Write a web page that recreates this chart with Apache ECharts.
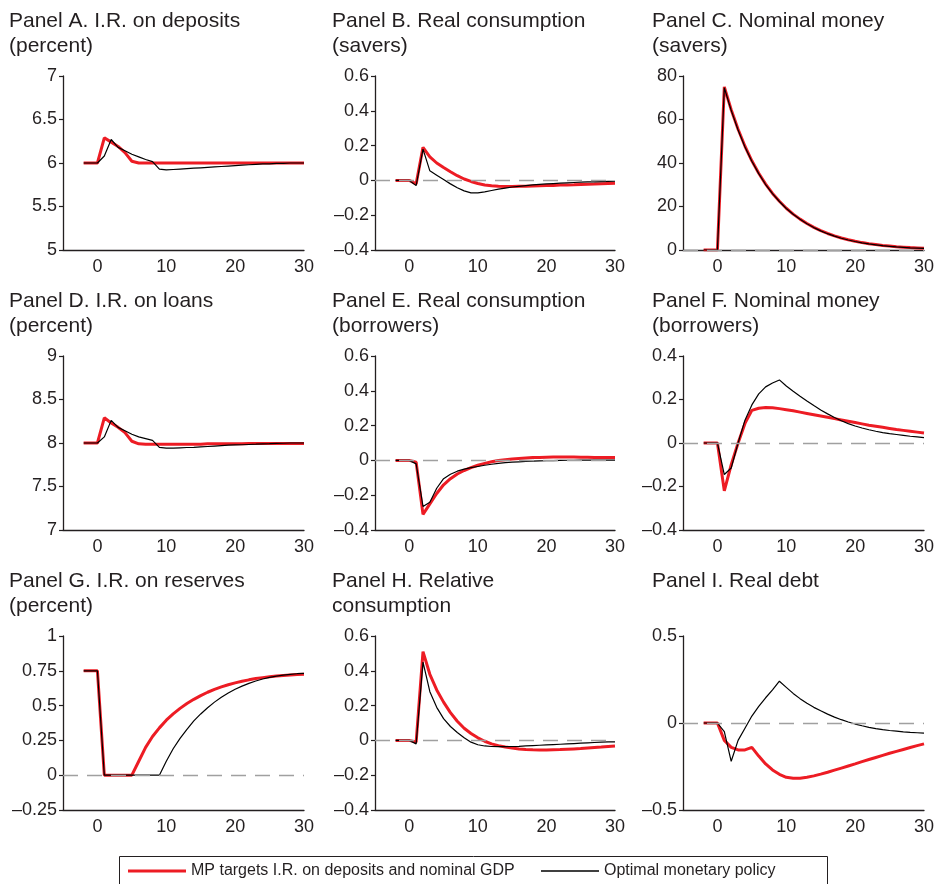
<!DOCTYPE html>
<html>
<head>
<meta charset="utf-8">
<script src="https://cdn.jsdelivr.net/npm/echarts@6/dist/echarts.min.js"></script>
<style>
html,body{margin:0;padding:0;background:#fff;}
#chart{width:936px;height:884px;}
</style>
</head>
<body>
<div id="chart"></div>
<script>
// ---------- DATA ----------
const periods = [-2,-1,0,1,2,3,4,5,6,7,8,9,10,11,12,13,14,15,16,17,18,19,20,21,22,23,24,25,26,27,28,29,30];

const seriesNames = ['MP targets I.R. on deposits and nominal GDP', 'Optimal monetary policy'];

const panelTitles = [
  'Panel A. I.R. on deposits\n(percent)',
  'Panel B. Real consumption\n(savers)',
  'Panel C. Nominal money\n(savers)',
  'Panel D. I.R. on loans\n(percent)',
  'Panel E. Real consumption\n(borrowers)',
  'Panel F. Nominal money\n(borrowers)',
  'Panel G. I.R. on reserves\n(percent)',
  'Panel H. Relative\nconsumption',
  'Panel I. Real debt'
];

const yMin  = [5, -0.4, 0, 7, -0.4, -0.4, -0.25, -0.4, -0.5];
const yMax  = [7,  0.6, 80, 9, 0.6, 0.4, 1, 0.6, 0.5];
const yStep = [0.5, 0.2, 20, 0.5, 0.2, 0.2, 0.25, 0.2, 0.5];
const xTickLabels = [0, 10, 20, 30];
const zeroLine = [false, true, true, false, true, true, true, true, true];

// Panel A: I.R. on deposits
const depRed = [6,6,6, 6.29,6.24,6.19,6.12,6.02,6.0, 6,6,6,6,6,6,6,6,6,6,6,6,6,6,6,6,6,6,6,6,6,6,6,6];
const depOpt = [6,6,6, 6.08,6.27,6.18,6.14,6.1,6.07,6.04,6.015,5.93,5.92,5.925,5.93,5.935,5.94,5.945,5.95,5.955,5.96,5.965,5.97,5.975,5.98,5.985,5.99,5.99,5.995,5.995,6,6,6];
// Panel B: real consumption (savers)
const consSavRed = [0,0,0, -0.02,0.19,0.135,0.1,0.074,0.05,0.027,0.008,-0.006,-0.018,-0.026,-0.031,-0.034,-0.035,-0.035,-0.034,-0.033,-0.032,-0.031,-0.03,-0.029,-0.027,-0.026,-0.025,-0.023,-0.022,-0.021,-0.019,-0.018,-0.017];
const consSavOpt = [0,0,0, -0.03,0.18,0.055,0.03,0.005,-0.02,-0.042,-0.06,-0.072,-0.072,-0.066,-0.058,-0.05,-0.044,-0.038,-0.034,-0.03,-0.026,-0.023,-0.02,-0.018,-0.016,-0.014,-0.012,-0.01,-0.009,-0.008,-0.007,-0.006,-0.005];
// Panel C: nominal money (savers)
const moneySavRed = [0,0,0, 75,64.5,55.5,47.7,41,35.3,30.3,26,22.4,19.2,16.5,14.2,12.2,10.4,8.9,7.6,6.5,5.5,4.7,4.0,3.4,2.9,2.5,2.1,1.8,1.5,1.3,1.1,0.95,0.8];
const moneySavOpt = [0,0,0, 74.6,64.2,55.2,47.4,40.8,35.1,30.1,25.9,22.3,19.1,16.4,14.1,12.1,10.3,8.8,7.5,6.4,5.4,4.6,3.9,3.3,2.8,2.4,2.0,1.7,1.4,1.2,1.0,0.9,0.75];
// Panel D: I.R. on loans
const loanRed = [8,8,8, 8.29,8.23,8.18,8.12,8.02,7.99,7.985,7.985,7.985,7.985,7.985,7.985,7.985,7.985,7.985,7.99,7.99,7.99,7.99,7.99,7.99,7.995,7.995,7.995,7.995,7.995,7.995,7.995,7.995,7.995];
const loanOpt = [8,8,8, 8.07,8.26,8.18,8.14,8.1,8.07,8.05,8.03,7.95,7.94,7.942,7.945,7.948,7.95,7.955,7.96,7.965,7.97,7.975,7.978,7.98,7.983,7.986,7.99,7.992,7.995,7.997,8,8,8];
// Panel E: real consumption (borrowers)
const consBorRed = [0,0,0, -0.01,-0.31,-0.25,-0.19,-0.14,-0.105,-0.078,-0.058,-0.042,-0.028,-0.017,-0.008,-0.001,0.004,0.008,0.011,0.014,0.016,0.017,0.018,0.019,0.019,0.019,0.019,0.018,0.018,0.017,0.017,0.016,0.016];
const consBorOpt = [0,0,0, -0.02,-0.265,-0.24,-0.16,-0.105,-0.08,-0.062,-0.05,-0.042,-0.035,-0.028,-0.022,-0.017,-0.013,-0.01,-0.008,-0.006,-0.004,-0.003,-0.002,-0.001,0,0.001,0.001,0.002,0.002,0.002,0.002,0.002,0.002];
// Panel F: nominal money (borrowers)
const moneyBorRed = [0,0,0, -0.22,-0.1,0.0,0.09,0.15,0.16,0.163,0.162,0.158,0.153,0.148,0.142,0.136,0.13,0.124,0.118,0.112,0.106,0.1,0.094,0.088,0.082,0.077,0.072,0.067,0.062,0.058,0.054,0.05,0.046];
const moneyBorOpt = [0,0,0, -0.145,-0.115,0.0,0.105,0.175,0.226,0.258,0.276,0.29,0.262,0.238,0.215,0.193,0.172,0.152,0.134,0.117,0.102,0.089,0.078,0.069,0.061,0.054,0.048,0.043,0.039,0.035,0.031,0.028,0.025];
// Panel G: I.R. on reserves
const resRed = [0.75,0.75,0.75, 0,0,0,0,0,0.1,0.2,0.278,0.34,0.395,0.44,0.48,0.515,0.545,0.572,0.596,0.616,0.634,0.65,0.663,0.675,0.685,0.694,0.701,0.707,0.712,0.716,0.72,0.723,0.725];
const resOpt = [0.75,0.75,0.75, 0,0,0,0,0,0,0,0,0,0.1,0.19,0.265,0.33,0.39,0.44,0.485,0.525,0.56,0.59,0.617,0.64,0.66,0.677,0.691,0.703,0.712,0.719,0.725,0.729,0.732];
// Panel H: relative consumption
const relRed = [0,0,0, -0.01,0.51,0.38,0.29,0.22,0.16,0.11,0.07,0.04,0.015,-0.005,-0.02,-0.03,-0.038,-0.044,-0.049,-0.052,-0.054,-0.055,-0.055,-0.054,-0.053,-0.051,-0.049,-0.047,-0.044,-0.041,-0.038,-0.035,-0.032];
const relOpt = [0,0,0, -0.02,0.45,0.28,0.19,0.125,0.08,0.045,0.015,-0.01,-0.025,-0.032,-0.035,-0.036,-0.036,-0.035,-0.034,-0.032,-0.03,-0.028,-0.026,-0.024,-0.022,-0.02,-0.018,-0.016,-0.014,-0.012,-0.01,-0.009,-0.008];
// Panel I: real debt
const debtRed = [0,0,0, -0.1,-0.14,-0.155,-0.155,-0.14,-0.19,-0.235,-0.27,-0.295,-0.312,-0.318,-0.317,-0.312,-0.304,-0.294,-0.283,-0.271,-0.259,-0.247,-0.235,-0.222,-0.21,-0.198,-0.186,-0.174,-0.163,-0.152,-0.141,-0.13,-0.12];
const debtOpt = [0,0,0, -0.05,-0.22,-0.1,-0.03,0.04,0.095,0.145,0.19,0.24,0.205,0.17,0.14,0.113,0.09,0.07,0.051,0.034,0.019,0.006,-0.006,-0.016,-0.025,-0.032,-0.038,-0.043,-0.047,-0.051,-0.054,-0.056,-0.058];

const redSeries = [depRed, consSavRed, moneySavRed, loanRed, consBorRed, moneyBorRed, resRed, relRed, debtRed];
const optSeries = [depOpt, consSavOpt, moneySavOpt, loanOpt, consBorOpt, moneyBorOpt, resOpt, relOpt, debtOpt];

// ---------- LAYOUT / STYLE ----------
const FONT = '"Liberation Sans", Arial, Helvetica, sans-serif';
const TXT = '#231f20';
const RED = '#ed1c24';
const colLeft = [63, 375, 683];
const colWidth = [241, 240, 241];
const rowTop = [76, 356, 636];
const plotH = 174;
const titleLeft = [9, 332, 652];
const titleTop = [9, 289, 569];

function fmtY(v) {
  const r = Math.round(v * 1000) / 1000;
  if (r < 0) return '\u2013' + String(Math.abs(r));
  return String(r);
}

const grids = [], xAxes = [], yAxes = [], series = [], titles = [];
for (let i = 0; i < 9; i++) {
  const c = i % 3, r = Math.floor(i / 3);
  grids.push({left: colLeft[c], top: rowTop[r], width: colWidth[c], height: plotH, outerBoundsMode: 'none', containLabel: false});
  titles.push({
    text: panelTitles[i], left: titleLeft[c], top: titleTop[r], padding: 0,
    textStyle: {fontFamily: FONT, fontSize: 21, fontWeight: 'normal', color: TXT, lineHeight: 25}
  });
  xAxes.push({
    type: 'value', gridIndex: i, min: -5, max: 30, interval: 5,
    axisLine: {show: true, onZero: false, lineStyle: {color: TXT, width: 1.3}},
    axisTick: {show: false},
    splitLine: {show: false},
    axisLabel: {
      fontFamily: FONT, fontSize: 18, color: TXT, margin: 8,
      formatter: v => xTickLabels.indexOf(v) >= 0 ? String(v) : ''
    }
  });
  yAxes.push({
    type: 'value', gridIndex: i, min: yMin[i], max: yMax[i], interval: yStep[i],
    axisLine: {show: true, onZero: false, lineStyle: {color: TXT, width: 1.3}},
    axisTick: {show: true, length: 4, inside: false, lineStyle: {color: TXT, width: 1.2}},
    splitLine: {show: false},
    axisLabel: {fontFamily: FONT, fontSize: 18, color: TXT, margin: 6, formatter: fmtY}
  });
  if (zeroLine[i]) {
    series.push({
      type: 'line', name: 'zero' + i, xAxisIndex: i, yAxisIndex: i, data: [], z: 1, silent: true,
      markLine: {
        silent: true, symbol: ['none', 'none'], label: {show: false}, animation: false,
        lineStyle: {color: '#a0a0a0', width: 1.3, type: [15, 9]},
        emphasis: {disabled: true},
        data: [{yAxis: 0}]
      }
    });
  }
  series.push({
    type: 'line', name: seriesNames[0], xAxisIndex: i, yAxisIndex: i, z: 2,
    data: periods.map((t, k) => [t, redSeries[i][k]]),
    showSymbol: false, symbol: 'none', color: RED,
    lineStyle: {color: RED, width: 3}, silent: true
  });
  series.push({
    type: 'line', name: seriesNames[1], xAxisIndex: i, yAxisIndex: i, z: 3,
    data: periods.map((t, k) => [t, optSeries[i][k]]),
    showSymbol: false, symbol: 'none', color: '#000',
    lineStyle: {color: '#000', width: 1.2}, silent: true
  });
}

const option = {
  animation: false,
  backgroundColor: '#fff',
  title: titles,
  grid: grids,
  xAxis: xAxes,
  yAxis: yAxes,
  legend: [
    {data: [seriesNames[0]], left: 128, top: 863, icon: 'rect', itemWidth: 58, itemHeight: 3, itemGap: 0,
     selectedMode: false, padding: 0, textStyle: {fontFamily: FONT, fontSize: 16, color: TXT}},
    {data: [seriesNames[1]], left: 541, top: 863, icon: 'rect', itemWidth: 58, itemHeight: 1.3, itemGap: 0,
     selectedMode: false, padding: 0, textStyle: {fontFamily: FONT, fontSize: 16, color: TXT}}
  ],
  graphic: [{
    type: 'rect', left: 117, top: 854, silent: true,
    shape: {width: 708, height: 40},
    style: {fill: 'none', stroke: TXT, lineWidth: 1}
  }],
  series: series
};

const chart = echarts.init(document.getElementById('chart'), null, {renderer: 'canvas'});
chart.setOption(option);
</script>
</body>
</html>
